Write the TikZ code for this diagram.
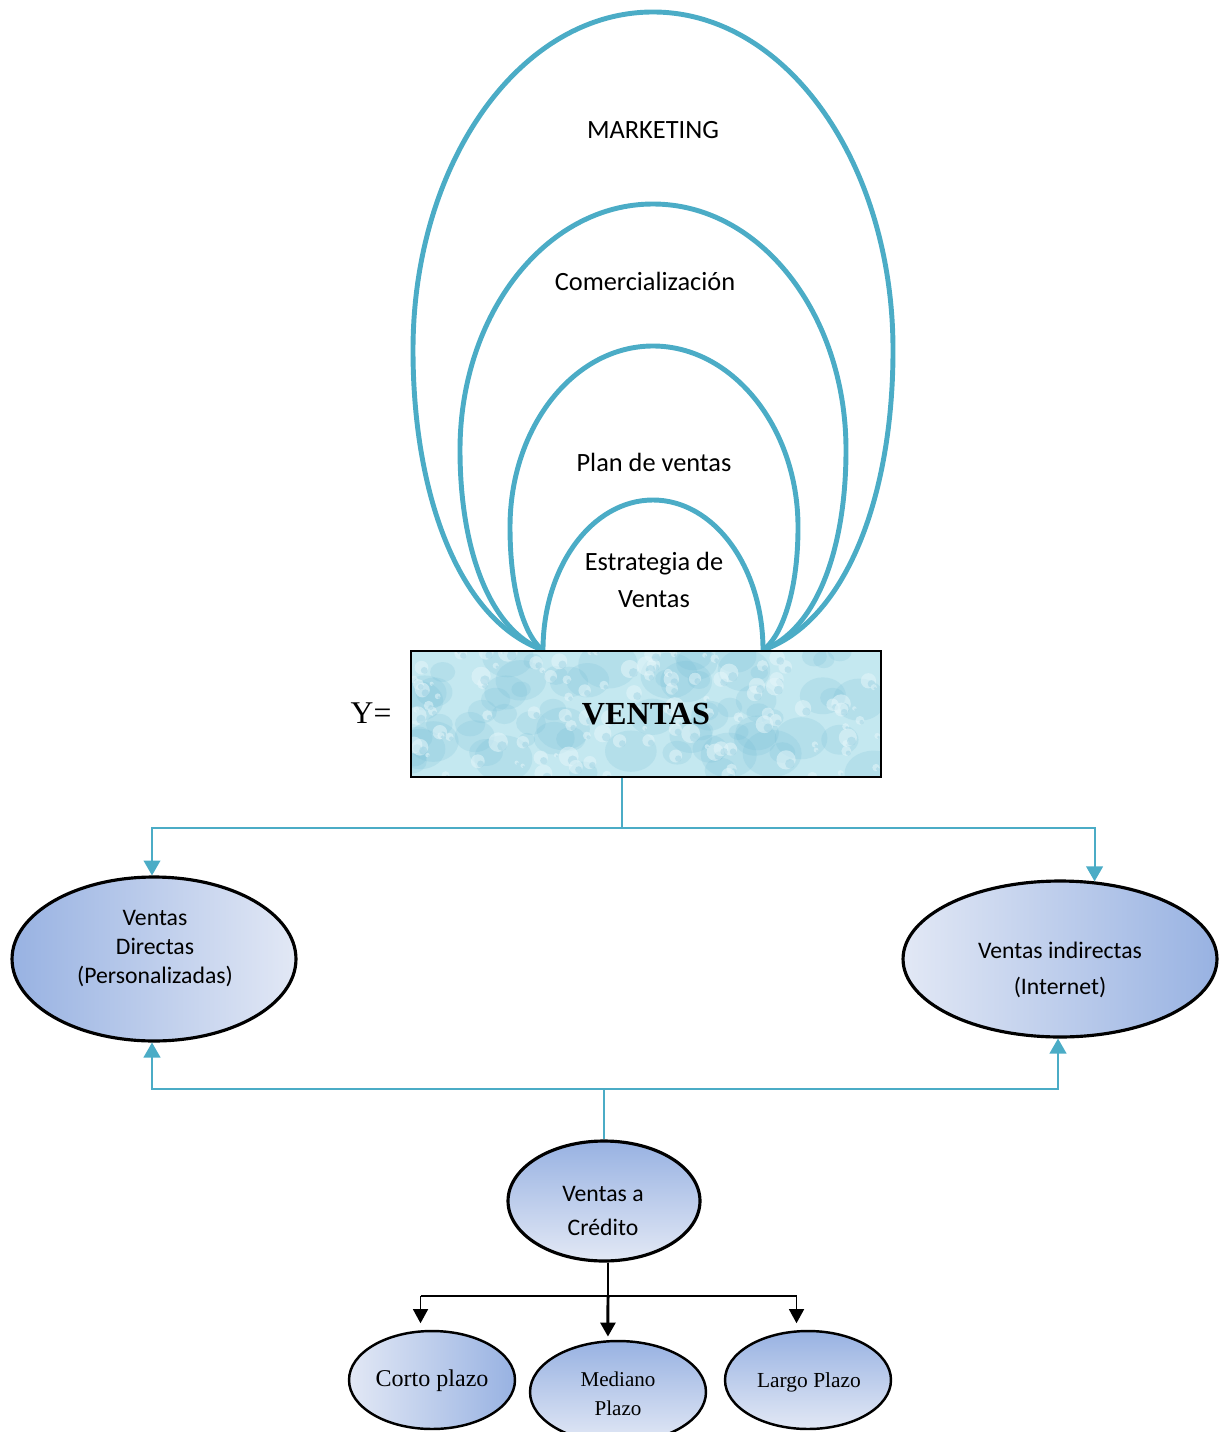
\documentclass[tikz,border=0pt]{standalone}
\usepackage{fontspec}
\setmainfont{Liberation Serif}
\newfontfamily\calfont{Carlito}
\usetikzlibrary{shapes.geometric,arrows.meta,calc}

\definecolor{loopblue}{RGB}{75,172,198}
\definecolor{gdark}{RGB}{152,178,226}
\definecolor{glight}{RGB}{226,232,245}
\definecolor{waterbase}{RGB}{196,232,240}
\definecolor{waterdrop}{RGB}{110,185,212}
\definecolor{waterpale}{RGB}{228,246,250}

\begin{document}
\begin{tikzpicture}[x=0.02cm,y=-0.02cm,
  loopline/.style={draw=loopblue,line width=2.8pt},
  link/.style={draw=loopblue,line width=1.1pt},
  linktip/.style={-{Triangle[length=8.5pt,width=9.5pt]}},
  blackline/.style={draw=black,line width=0.9pt},
  blacktip/.style={-{Triangle[length=8pt,width=8.5pt]}},
  oval/.style={ellipse,draw=black,line width=1.8pt,inner sep=0pt},
  toptext/.style={font=\calfont\fontsize{15}{21}\selectfont,align=center},
  ovaltext/.style={font=\calfont\fontsize{13.5}{16.5}\selectfont,align=center},
  serifsmall/.style={font=\fontsize{12}{16.5}\selectfont,align=center}]
\useasboundingbox (0,0) rectangle (1228,1432);

% nested loops resting on the sales box
\draw[loopline] (543,650) .. controls (462,622) and (413,500) .. (413,350)
  .. controls (413,163) and (520,12) .. (653,12)
  .. controls (786,12) and (893,163) .. (893,350)
  .. controls (893,500) and (844,622) .. (763,650);
\draw[loopline] (543,650) .. controls (490,630) and (460,550) .. (460,450)
  .. controls (460,314) and (546,204) .. (653,204)
  .. controls (760,204) and (846,314) .. (846,450)
  .. controls (846,550) and (816,630) .. (763,650);
\draw[loopline] (543,650) .. controls (528,640) and (510,600) .. (510,527)
  .. controls (510,427) and (574,346) .. (653,346)
  .. controls (732,346) and (798,427) .. (798,527)
  .. controls (798,600) and (778,640) .. (763,650);
\draw[loopline] (543,650) .. controls (543,567) and (592,500) .. (653,500)
  .. controls (714,500) and (763,567) .. (763,650);

\node[toptext] (mkt) at (653,130) {MARKETING};
\node[toptext] (com) at (645,281) {Comercialización};
\node[toptext] (plan) at (654,462) {Plan de ventas};
\node[toptext] (estr) at (654,580) {Estrategia de\\Ventas};

% water-drop texture of the sales box
\begin{scope}
  \clip (411,651) rectangle (881,777);
  \fill[waterbase] (411,651) rectangle (881,777);
  \pgfmathsetseed{11}
  \foreach \i in {1,...,70} {
    \pgfmathsetmacro{\bx}{411+470*rnd}
    \pgfmathsetmacro{\by}{651+126*rnd}
    \pgfmathsetmacro{\br}{8+22*rnd}
    \fill[waterdrop,opacity=0.18] (\bx,\by) ellipse[x radius=\br,y radius=0.8*\br];
  }
  \foreach \i in {1,...,120} {
    \pgfmathsetmacro{\bx}{411+470*rnd}
    \pgfmathsetmacro{\by}{651+126*rnd}
    \pgfmathsetmacro{\br}{2+8*rnd}
    \fill[waterpale,opacity=0.55] (\bx,\by) circle[radius=\br];
    \fill[waterdrop,opacity=0.25] (\bx+0.4*\br,\by+0.4*\br) circle[radius=0.5*\br];
  }
\end{scope}
\node[draw=black,line width=1.2pt,minimum width=9.4cm,minimum height=2.52cm,inner sep=0pt,
  font=\bfseries\fontsize{18.3}{20}\selectfont] (box) at (646,714) {VENTAS};
\node[font=\fontsize{18}{20}\selectfont] (yeq) at (371,713) {Y=};

% second-level ellipses
\node[oval,minimum width=5.68cm,minimum height=3.28cm,left color=gdark,right color=glight] (vd) at (154,959) {};
\node[ovaltext] (vdtext) at (155,949) {Ventas\\Directas\\(Personalizadas)};
\node[oval,minimum width=6.28cm,minimum height=3.12cm,left color=glight,right color=gdark] (vi) at (1060,959) {};
\node[ovaltext,font=\calfont\fontsize{13.5}{20.5}\selectfont] (vitext) at (1060,970) {Ventas indirectas\\(Internet)};

\node[oval,minimum width=3.84cm,minimum height=2.4cm,top color=gdark,bottom color=glight] (vc) at (604,1201) {};
\node[ovaltext,font=\calfont\fontsize{13.5}{19.4}\selectfont] (vctext) at (603,1211) {Ventas a\\Crédito};

% credit terms
\node[oval,line width=1.4pt,minimum width=3.32cm,minimum height=1.96cm,left color=glight,right color=gdark] (cp) at (432,1380) {};
\node[font=\fontsize{13.7}{16}\selectfont] (cptext) at (432,1381) {Corto plazo};
\node[oval,line width=1.4pt,minimum width=3.52cm,minimum height=2.04cm,top color=gdark,bottom color=glight] (mp) at (618,1392) {};
\node[serifsmall] (mptext) at (618,1394) {Mediano\\Plazo};
\node[oval,line width=1.4pt,minimum width=3.32cm,minimum height=1.96cm,top color=gdark,bottom color=glight] (lp) at (808,1380) {};
\node[font=\fontsize{12.2}{16}\selectfont] (lptext) at (809,1382) {Largo Plazo};

% connectors from the sales box
\coordinate (jtop) at (622,828);
\draw[link] (box.south -| jtop) -- (jtop);
\draw[link,linktip] (jtop) -| ([xshift=-2*0.02cm]vd.north);
\draw[link,linktip] (jtop) -| (vi.66.6);

% connectors from credit sales
\coordinate (jmid) at (604,1089);
\draw[link] (vc.north) -- (jmid);
\draw[link,linktip] (jmid) -| ([xshift=-2*0.02cm]vd.south);
\draw[link,linktip] (jmid) -| ([xshift=-2*0.02cm]vi.south);

\coordinate (jlow) at (608,1296);
\draw[blackline] (vc.south -| jlow) -- (jlow);
\draw[blackline] (cp.103 |- jlow) -- (lp.103 |- jlow);
\draw[blackline,blacktip,shorten >=4pt] (cp.103 |- jlow) -- (cp.103);
\draw[blackline,line width=1.7pt,blacktip,shorten >=2pt] (jlow) -- (mp.101);
\draw[blackline,blacktip,shorten >=4pt] (lp.103 |- jlow) -- (lp.103);
\end{tikzpicture}
\end{document}
